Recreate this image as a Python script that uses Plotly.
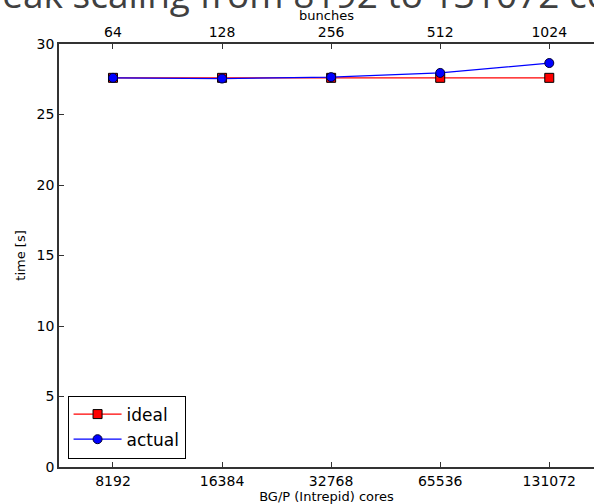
import math
import plotly.graph_objects as go

cores = [8192, 16384, 32768, 65536, 131072]
bunches = [64, 128, 256, 512, 1024]
ideal = [27.6, 27.6, 27.6, 27.6, 27.6]
actual = [27.6, 27.55, 27.65, 27.95, 28.65]
core_labels = ["8192", "16384", "32768", "65536", "131072"]
bunch_labels = ["64", "128", "256", "512", "1024"]

W, H = 594, 504
L, R, T, B = 59, 0, 44, 37

step = math.log10(2)
x0 = math.log10(cores[0]) - 0.495 * step
x1 = math.log10(cores[0]) + 4.41 * step
shift = math.log10(cores[0] / bunches[0])

axcol = "#333333"
tickfont = dict(family="DejaVu Sans", size=14, color="black")

fig = go.Figure()
fig.add_trace(go.Scatter(
    x=cores, y=ideal, name="ideal", mode="lines+markers",
    line=dict(color="red", width=1.2),
    marker=dict(symbol="square", size=9, color="red", line=dict(color="black", width=1)),
))
fig.add_trace(go.Scatter(
    x=cores, y=actual, name="actual", mode="lines+markers",
    line=dict(color="blue", width=1.2),
    marker=dict(symbol="circle", size=9, color="blue", line=dict(color="#000033", width=1)),
))
fig.add_trace(go.Scatter(
    x=bunches, y=actual, xaxis="x2", mode="markers",
    marker=dict(opacity=0), showlegend=False, hoverinfo="skip",
))

fig.update_layout(
    width=W, height=H,
    margin=dict(l=L, r=R, t=T, b=B, pad=0),
    paper_bgcolor="white", plot_bgcolor="white",
    showlegend=True,
    legend=dict(
        x=0.016, y=0.02, xanchor="left", yanchor="bottom",
        bgcolor="white", bordercolor="black", borderwidth=1,
        font=dict(family="DejaVu Sans", size=17, color="black"),
        itemwidth=48, tracegroupgap=2,
    ),
    xaxis=dict(
        type="log", range=[x0, x1],
        tickvals=cores, ticktext=core_labels,
        ticks="inside", ticklen=5, tickcolor=axcol,
        showline=True, linecolor=axcol, linewidth=1.5,
        showgrid=False, zeroline=False,
        tickfont=tickfont,
        title=dict(text="BG/P (Intrepid) cores", standoff=2,
                   font=dict(family="DejaVu Sans", size=13, color="black")),
    ),
    xaxis2=dict(
        type="log", range=[x0 - shift, x1 - shift], overlaying="x", side="top", anchor="y",
        tickvals=bunches, ticktext=bunch_labels,
        ticks="inside", ticklen=5, tickcolor=axcol,
        showline=True, linecolor=axcol, linewidth=1.5,
        showgrid=False, zeroline=False,
        tickfont=tickfont,
        title=dict(text="bunches", standoff=0,
                   font=dict(family="DejaVu Sans", size=13, color="black")),
    ),
    yaxis=dict(
        range=[0, 30], tickvals=[0, 5, 10, 15, 20, 25, 30],
        ticks="inside", ticklen=5, tickcolor=axcol,
        showline=True, linecolor=axcol, linewidth=1.5,
        showgrid=False, zeroline=False,
        tickfont=tickfont,
        title=dict(text="time [s]", standoff=8,
                   font=dict(family="DejaVu Sans", size=13, color="black")),
    ),
    annotations=[dict(
        text="Weak scaling from 8192 to 131072 cores",
        xref="paper", yref="paper", x=(315 - L) / (W - L), y=1 + (T + 6.5) / (H - T - B),
        xanchor="center", yanchor="middle", showarrow=False,
        font=dict(family="Open Sans", size=37, color="#404040"),
    )],
)

fig.write_html("out.html")
